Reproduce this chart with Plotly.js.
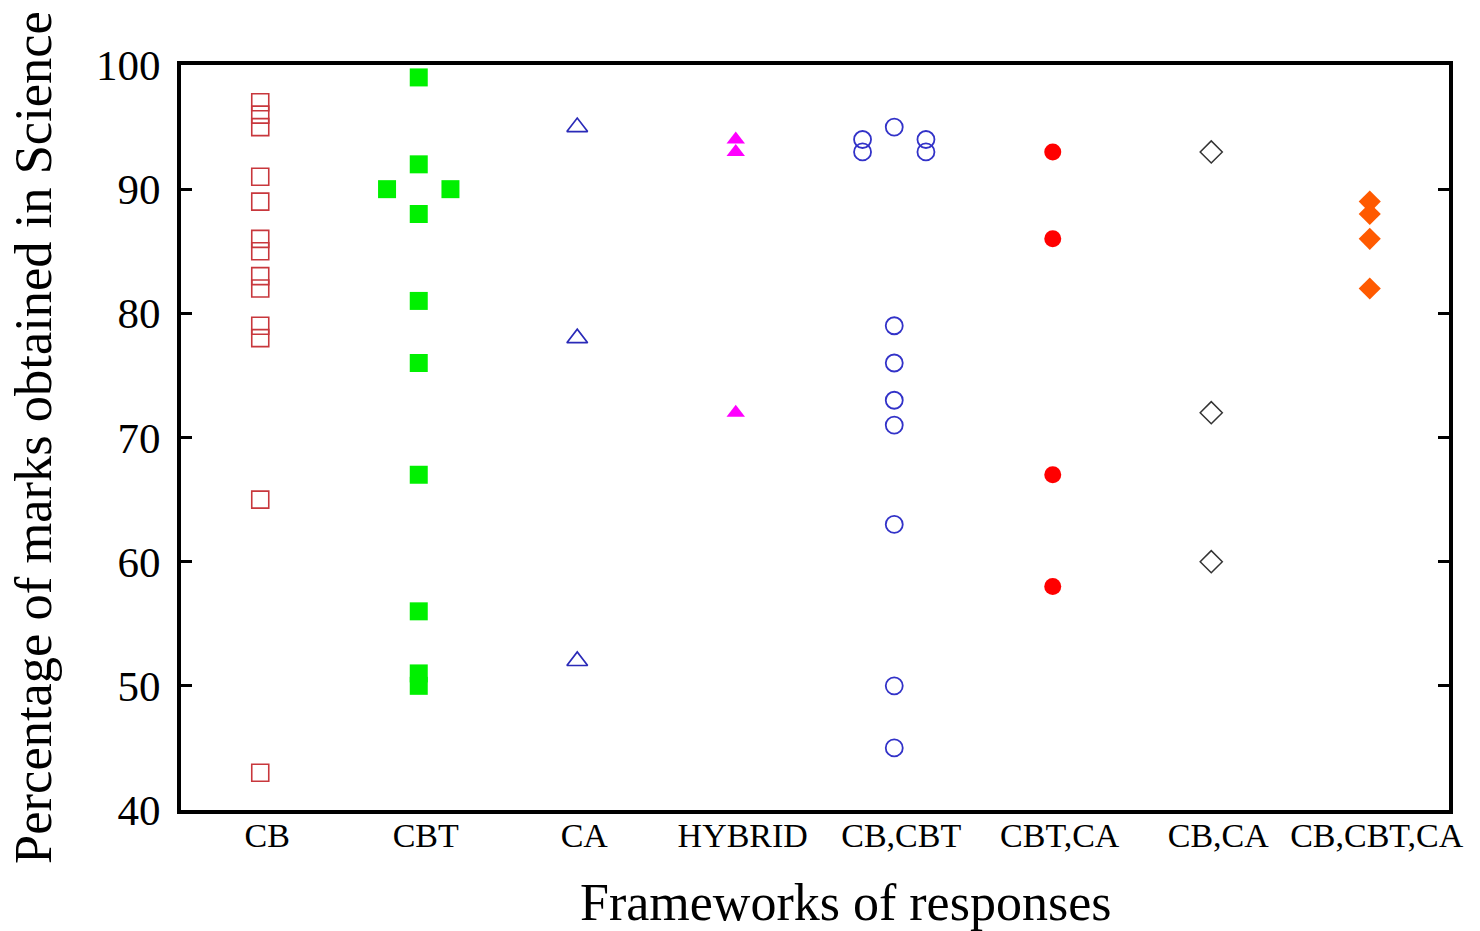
<!DOCTYPE html>
<html>
<head>
<meta charset="utf-8">
<script src="https://cdn.plot.ly/plotly-3.0.1.min.js"></script>
<style>html,body{margin:0;padding:0;background:#fff;}#chart{width:1480px;height:931px;}</style>
</head>
<body>
<div id="chart"></div>
<script>
// Categories (x positions 1..8)
const categories = ["CB", "CBT", "CA", "HYBRID", "CB,CBT", "CBT,CA", "CB,CA", "CB,CBT,CA"];

// Values per framework (percentage of marks)
const cbValues = [97, 96, 95, 91, 89, 86, 85, 83, 82, 79, 78, 65, 43];
const cbtValues = [99, 92, 90, 90, 88, 81, 76, 67, 56, 51, 50];
const cbtSide = [0, 0, -1, 1, 0, 0, 0, 0, 0, 0, 0];
const caValues = [95, 78, 52];
const hybridValues = [94, 93, 72];
const cbCbtValues = [95, 94, 93, 94, 93, 79, 76, 73, 71, 63, 50, 45];
const cbCbtSide = [0, -1, -1, 1, 1, 0, 0, 0, 0, 0, 0, 0];
const cbtCaValues = [93, 86, 67, 58];
const cbCaValues = [93, 72, 60];
const cbCbtCaValues = [89, 88, 86, 82];

const yTicks = [40, 50, 60, 70, 80, 90, 100];

const xTitle = "Frameworks of responses";
const yTitle = "Percentage of marks obtained in Science";

const JITTER = 0.2;
function xs(catIndex, vals, side) {
  return vals.map((v, i) => catIndex + 1 + (side ? side[i] * JITTER : 0));
}

const FONT = "Liberation Serif, Times New Roman, serif";

const traces = [
  {x: xs(0, cbValues), y: cbValues, symbol: "square-open", color: "#c8373c", size: 17, lw: 1.6},
  {x: xs(1, cbtValues, cbtSide), y: cbtValues, symbol: "square", color: "#00f000", size: 18, lw: 0},
  {x: xs(2, caValues), y: caValues, symbol: "triangle-up-open", color: "#2a2ab8", size: 18, lw: 1.7},
  {x: xs(3, hybridValues), y: hybridValues, symbol: "triangle-up", color: "#ff00ff", size: 16, lw: 0},
  {x: xs(4, cbCbtValues, cbCbtSide), y: cbCbtValues, symbol: "circle-open", color: "#3232c8", size: 17, lw: 1.8},
  {x: xs(5, cbtCaValues), y: cbtCaValues, symbol: "circle", color: "#ff0000", size: 17, lw: 0},
  {x: xs(6, cbCaValues), y: cbCaValues, symbol: "diamond-open", color: "#333333", size: 17, lw: 1.5},
  {x: xs(7, cbCbtCaValues), y: cbCbtCaValues, symbol: "diamond", color: "#ff5a00", size: 17, lw: 0}
].map(t => ({
  type: "scatter", mode: "markers", x: t.x, y: t.y, showlegend: false, hoverinfo: "y",
  marker: {symbol: t.symbol, color: t.color, size: t.size, line: {width: t.lw, color: t.color}}
}));

const layout = {
  width: 1480, height: 931,
  margin: {l: 181, r: 31, t: 65, b: 121},
  paper_bgcolor: "#ffffff", plot_bgcolor: "#ffffff",
  font: {family: FONT, color: "#000000"},
  showlegend: false,
  xaxis: {
    range: [0.5, 8.5], tickmode: "array",
    tickvals: categories.map((c, i) => i + 1), ticktext: categories,
    showgrid: false, zeroline: false,
    showline: true, linecolor: "#000000", linewidth: 4, mirror: true,
    ticks: "", tickfont: {family: FONT, size: 34, color: "#000"},
    ticklabelstandoff: -8, ticklabelshift: 7
  },
  yaxis: {
    range: [40, 100], tickmode: "array", tickvals: yTicks, ticktext: yTicks.map(String),
    showgrid: false, zeroline: false,
    showline: true, linecolor: "#000000", linewidth: 4, mirror: "ticks",
    ticks: "inside", ticklen: 11, tickwidth: 3, tickcolor: "#000",
    tickfont: {family: FONT, size: 43, color: "#000"},
    ticklabelstandoff: 8,
    title: {text: yTitle, font: {family: FONT, size: 52.5, color: "#000"}, standoff: 29}
  },
  annotations: [{
    text: xTitle, xref: "paper", yref: "paper", x: 0.5237, y: -0.1235,
    xanchor: "center", yanchor: "middle", showarrow: false,
    font: {family: FONT, size: 52, color: "#000"}
  }]
};

Plotly.newPlot("chart", traces, layout, {displayModeBar: false, staticPlot: true});
</script>
</body>
</html>
